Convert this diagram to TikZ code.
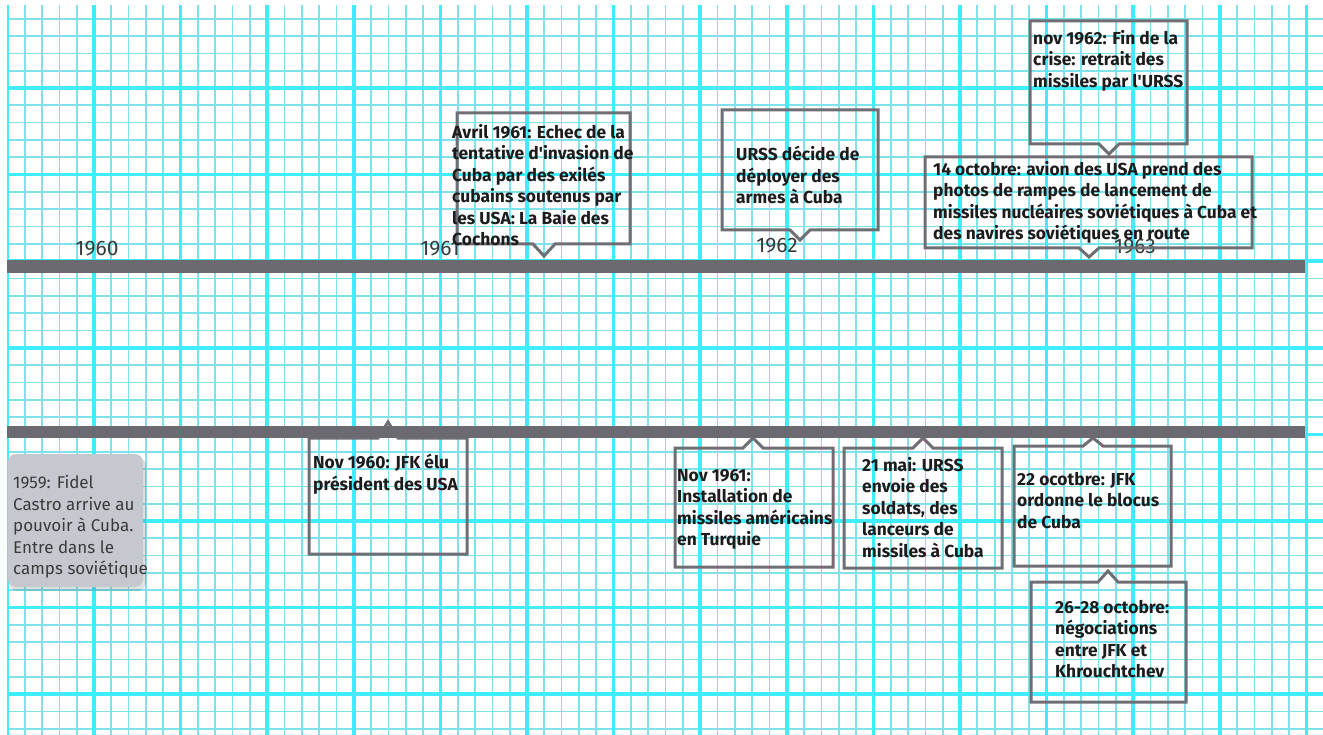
\documentclass[tikz,border=0pt]{standalone}
\usepackage{fontspec}
\setmainfont{Fira Sans}
\definecolor{gridminor}{HTML}{7FE2EA}
\definecolor{gridmajor}{HTML}{40EDFF}
\definecolor{bar}{HTML}{6A6A70}
\definecolor{boxline}{HTML}{6E6E74}
\definecolor{txt}{HTML}{1C1C1C}
\definecolor{yeartxt}{HTML}{3A3A3A}
\definecolor{graybox}{HTML}{C6C8D0}
\newcommand{\apos}{\textquotesingle}
\begin{document}
\begin{tikzpicture}[x=1pt,y=-1pt,
  minorline/.style={gridminor,line width=1.7pt},
  majorline/.style={gridmajor,line width=3.6pt},
  barline/.style={bar,line width=12.5pt},
  callout/.style={boxline,line width=3pt,line join=miter},
  evtext/.style={anchor=north west,inner sep=0pt,align=left,text=txt,font=\bfseries\fontsize{17.4}{21.5}\selectfont},
  yearlab/.style={anchor=base,inner sep=0pt,text=yeartxt,font=\fontsize{21}{24}\selectfont},
  grayboxstyle/.style={fill=graybox,rounded corners=8pt},
  graytext/.style={anchor=north west,inner sep=0pt,align=left,text=yeartxt,font=\fontsize{17}{21.6}\selectfont}
]
\useasboundingbox (0,0) rectangle (1323,735);
\fill[white] (0,0) rectangle (1323,735);
% grid
\begin{scope}
\clip (7,6) rectangle (1323,735);
\foreach \i in {0,...,76} {\draw[minorline] ({7.4+\i*17.32},0) -- ({7.4+\i*17.32},735);}
\foreach \j in {0,...,42} {\draw[minorline] (0,{1.4+\j*17.32}) -- (1323,{1.4+\j*17.32});}
\foreach \i in {0,...,15} {\draw[majorline] ({7.4+\i*86.6},0) -- ({7.4+\i*86.6},735);}
\foreach \j in {0,...,8} {\draw[majorline] (0,{1.4+\j*86.6}) -- (1323,{1.4+\j*86.6});}
\end{scope}
% bars
\coordinate (b1s) at (7,266.5);
\coordinate (b1e) at (1305,266.5);
\coordinate (b2s) at (7,432);
\coordinate (b2e) at (1305,432);
% year labels
\node[yearlab] (y60) at (97,256) {1960};
\node[yearlab] (y61) at (440,256) {1961};
\node[yearlab] (y62) at (777,253) {1962};
\node[yearlab] (y63) at (1135,254) {1963};
% upper callouts (pointing down)
\draw[callout] (457,113) -- (630,113) -- (630,244) -- (555,244) -- (544,256) -- (533,244) -- (457,244) -- cycle;
\draw[callout] (722,110) -- (878,110) -- (878,230) -- (810,230) -- (800,240) -- (790,230) -- (722,230) -- cycle;
\draw[callout] (925,157) -- (1252,157) -- (1252,248) -- (1099,248) -- (1089,257) -- (1079,248) -- (925,248) -- cycle;
\draw[callout] (1030,21) -- (1187,21) -- (1187,144) -- (1119,144) -- (1109,154) -- (1099,144) -- (1030,144) -- cycle;
% lower callouts (pointing up)
\draw[callout] (309,438) -- (378,438) -- (388,422) -- (398,438) -- (467,438) -- (467,554) -- (309,554) -- cycle;
\draw[callout] (675,448) -- (743,448) -- (753,438) -- (763,448) -- (833,448) -- (833,567) -- (675,567) -- cycle;
\draw[callout] (844,448) -- (913,448) -- (923,438) -- (933,448) -- (1002,448) -- (1002,568) -- (844,568) -- cycle;
\draw[callout] (1014,446) -- (1083,446) -- (1093,438) -- (1103,446) -- (1171,446) -- (1171,566) -- (1014,566) -- cycle;
\draw[callout] (1031,582) -- (1098,582) -- (1108,571) -- (1118,582) -- (1186,582) -- (1186,702) -- (1031,702) -- cycle;
% bars on top
\draw[barline] (b1s) -- (b1e);
\draw[barline] (b2s) -- (b2e);
% gray box
\fill[black,opacity=0.12,rounded corners=9pt] (9,457) rectangle (146,591);
\fill[grayboxstyle] (8,454) rectangle (143,587);
\node[graytext] (e59) at (13,475) {1959: Fidel\\Castro arrive au\\pouvoir à Cuba.\\Entre dans le\\camps soviétique};
% event texts
\node[evtext] (avril) at (452,124) {Avril 1961: Echec de la\\tentative d\apos invasion de\\Cuba par des exilés\\cubains soutenus par\\les USA: La Baie des\\Cochons};
\node[evtext] (urss) at (736,146) {URSS décide de\\déployer des\\armes à Cuba};
\node[evtext] (oct14) at (933,161) {14 octobre: avion des USA prend des\\photos de rampes de lancement de\\missiles nucléaires soviétiques à Cuba et\\des navires soviétiques en route};
\node[evtext] (nov62) at (1033,30) {nov 1962: Fin de la\\crise: retrait des\\missiles par l\apos URSS};
\node[evtext] (nov60) at (313,454) {Nov 1960: JFK élu\\président des USA};
\node[evtext] (nov61) at (677,469) {Nov 1961:\\Installation de\\missiles américains\\en Turquie};
\node[evtext] (mai21) at (862,457) {21 mai: URSS\\envoie des\\soldats, des\\lanceurs de\\missiles à Cuba};
\node[evtext] (oct22) at (1017,472) {22 ocotbre: JFK\\ordonne le blocus\\de Cuba};
\node[evtext] (oct26) at (1055,600) {26-28 octobre:\\négociations\\entre JFK et\\Khrouchtchev};
\end{tikzpicture}
\end{document}
